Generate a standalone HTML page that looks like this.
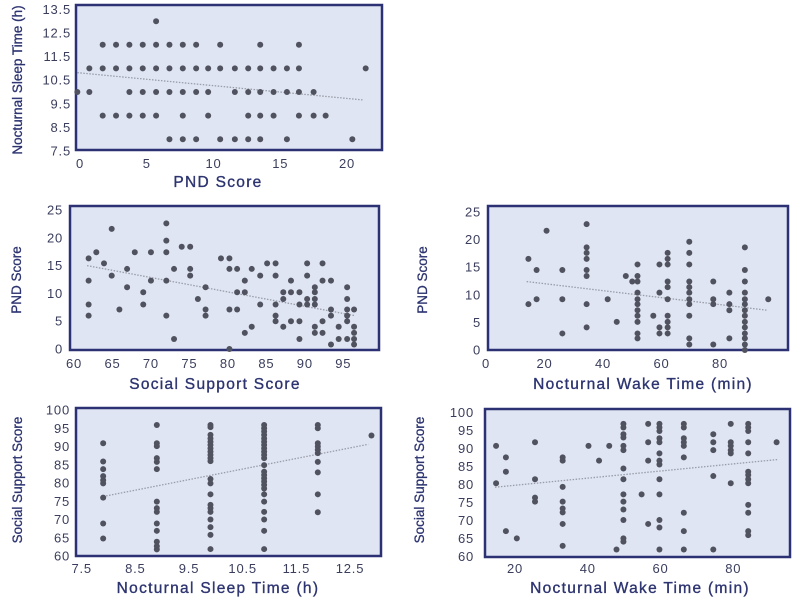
<!DOCTYPE html>
<html><head><meta charset="utf-8"><style>
html,body{margin:0;padding:0;background:#fff;}
svg{display:block;font-family:"Liberation Sans",sans-serif;}
</style></head><body>
<svg id="chart" width="800" height="600" viewBox="0 0 800 600" xmlns="http://www.w3.org/2000/svg"></svg>
<script>
// Panel 1: PND Score (x) vs Nocturnal Sleep Time (y)
const p1X = [5.7, 1.7,2.7,3.7,4.7,5.7,6.7,7.7,8.7,10.5,13.5,16.4,
 0.7,1.7,2.7,3.7,4.7,5.7,6.7,7.7,8.7,9.6,10.5,11.6,12.6,13.5,14.5,15.5,16.4,21.4,
 -0.2,0.7,3.7,4.7,5.7,6.7,7.7,8.7,9.6,11.6,12.6,13.5,14.5,15.5,16.4,17.5,
 1.7,2.7,3.7,4.7,5.7,7.7,9.6,12.6,13.5,14.5,16.4,17.5,18.4,
 6.7,7.7,8.7,10.5,11.6,12.6,13.5,15.5,20.4];
const p1Y = [13, 12,12,12,12,12,12,12,12,12,12,12,
 11,11,11,11,11,11,11,11,11,11,11,11,11,11,11,11,11,11,
 10,10,10,10,10,10,10,10,10,10,10,10,10,10,10,10,
 9,9,9,9,9,9,9,9,9,9,9,9,9,
 8,8,8,8,8,8,8,8,8];
const p1Trend = [[-0.2,10.82],[21.25,9.66]];
const p1XTicks = ["0","5","10","15","20"];
const p1YTicks = ["7.5","8.5","9.5","10.5","11.5","12.5","13.5"];

// Panel 2: Social Support Score (x) vs PND Score (y)
const p2X = [61.9,61.9,61.9,61.9,62.9,63.9,64.9,64.9,65.9,66.9,66.9,67.9,69,69,70,70,72,72,72,72,72,73,73,74,75.1,75.1,75.1,76.1,77.1,77.1,77.1,79.1,80.2,80.2,80.2,80.2,81.2,81.2,81.2,82.2,82.2,82.2,83.1,83.1,84.2,84.2,85.1,86.2,86.2,86.2,86.2,86.2,87.2,87.2,87.2,88.2,88.2,88.2,89.3,89.3,89.3,89.3,90.3,90.3,90.3,90.3,91.3,91.3,91.3,91.3,91.3,91.3,92.3,92.3,92.3,92.3,93.4,93.4,93.4,93.4,94.4,94.4,95.5,95.5,95.5,95.5,95.5,95.5,96.4,96.4,96.4,96.4,96.4];
const p2Y = [16.3,12.3,8,6,17.4,15.4,21.6,13.2,7.1,14.4,11.1,17.4,10.2,8,17.4,12.3,22.6,19.5,17.4,12.3,6,14.4,1.8,18.4,18.4,14.4,13.2,9,11.1,7.1,6,16.3,16.3,14.4,7.1,0,14.4,10.2,7.1,12.3,10.2,2.9,14.4,4,13.2,8,15.4,15.4,13.2,8,6,5,10.2,9,4,12.3,10.2,5,10.2,8,5,1.8,15.4,13.2,9,8,11.1,10.2,9,8,4,2.9,15.4,12.3,5,2.9,12.3,7.1,6,0.8,4,1.8,11.1,9,7.1,6,5,1.8,7.1,4,2.9,1.8,0.8];
const p2Trend = [[61.7,15.0],[96.5,6.0]];
const p2XTicks = ["60","65","70","75","80","85","90","95"];
const p2YTicks = ["0","5","10","15","20","25"];

// Panel 3: Nocturnal Wake Time (x) vs PND Score (y)
const p3X = [14.5,14.5,17.3,17.3,20.7,26.1,26.1,26.1,34.4,34.4,34.4,34.4,34.4,34.4,34.4,34.4,41.6,44.7,47.8,50,
 51.8,51.8,51.8,51.8,51.8,51.8,51.8,51.8,51.8,51.8,51.8,57.2,59.3,59.3,59.3,59.3,
 62.1,62.1,62.1,62.1,62.1,62.1,62.1,62.1,62.1,62.1,
 69.5,69.5,69.5,69.5,69.5,69.5,69.5,69.5,69.5,69.5,69.5,77.7,77.7,77.7,77.7,83.2,83.2,83.2,83.2,
 88.5,88.5,88.5,88.5,88.5,88.5,88.5,88.5,88.5,88.5,88.5,88.5,88.5,88.5,96.5];
const p3Y = [16.5,8.3,14.5,9.2,21.6,14.5,9.2,3,22.8,18.6,17.6,16.5,14.5,13.4,8.3,4.1,9.2,5.1,13.4,12.4,
 15.5,13.4,12.4,10.4,9.2,8.3,7.2,6.2,5.1,3,2.1,6.2,15.5,10.4,4.1,3,
 17.6,16.5,15.5,12.4,11.4,9.2,6.2,5.1,4.1,3,
 19.6,17.6,15.5,12.4,11.4,10.4,9.2,8.3,6.2,2.1,1,12.4,9.2,8.3,1,10.4,8.3,7.2,2.1,
 18.6,14.5,12.4,10.4,9.2,8.3,7.2,6.2,5.1,4.1,3,2.1,1,0,9.2];
const p3Trend = [[13.9,12.4],[96.2,7.2]];
const p3XTicks = ["0","20","40","60","80"];
const p3YTicks = ["0","5","10","15","20","25"];

// Panel 4: Nocturnal Sleep Time (x) vs Social Support Score (y)
const p4X = [7.9,7.9,7.9,7.9,7.9,7.9,7.9,7.9,7.9,
 8.9,8.9,8.9,8.9,8.9,8.9,8.9,8.9,8.9,8.9,8.9,8.9,8.9,8.9,
 9.9,9.9,9.9,9.9,9.9,9.9,9.9,9.9,9.9,9.9,9.9,9.9,9.9,9.9,9.9,9.9,9.9,9.9,9.9,9.9,9.9,
 10.9,10.9,10.9,10.9,10.9,10.9,10.9,10.9,10.9,10.9,10.9,10.9,10.9,10.9,10.9,10.9,10.9,10.9,10.9,10.9,10.9,10.9,10.9,10.9,
 11.9,11.9,11.9,11.9,11.9,11.9,11.9,11.9,11.9,11.9,12.9];
const p4Y = [90.9,85.9,83.8,81.9,80.8,79.9,76,68.9,64.8,
 95.9,90.9,90.1,86.8,85.8,83.8,74.9,73.1,72.1,68.9,66.9,63.9,62.7,61.8,
 95.9,95.3,93.2,92.2,91.3,90.4,89.5,88.6,87.7,86.8,86,81.1,79.9,76.9,74,73.1,72.1,70,67.9,65.8,61.9,
 95.9,95,94.1,93.2,92.2,91.3,90.4,89.5,88.6,87.7,86.8,84.9,83.1,82.2,81.3,80.4,79.5,78.5,76.9,74.9,72.1,70,66.9,61.9,
 95.9,95,90.9,90,89.1,88.2,85.8,82.9,76.9,72,93];
const p4Trend = [[7.9,76.3],[12.84,90.6]];
const p4XTicks = ["7.5","8.5","9.5","10.5","11.5","12.5"];
const p4YTicks = ["60","65","70","75","80","85","90","95","100"];

// Panel 5: Nocturnal Wake Time (x) vs Social Support Score (y)
const p5X = [14.8,14.8,17.5,17.5,17.5,20.5,25.5,25.5,25.5,25.5,
 33.1,33.1,33.1,33.1,33.1,33.1,33.1,33.1,40.2,43.1,45.9,47.9,
 49.8,49.8,49.8,49.8,49.8,49.8,49.8,49.8,49.8,49.8,49.8,49.8,49.8,49.8,54.8,56.6,56.6,56.6,56.6,
 59.7,59.7,59.7,59.7,59.7,59.7,59.7,59.7,59.7,59.7,59.7,59.7,59.7,
 66.4,66.4,66.4,66.4,66.4,66.4,66.4,66.4,66.4,74.5,74.5,74.5,74.5,74.5,
 79.3,79.3,79.3,79.3,79.3,79.3,
 84.1,84.1,84.1,84.1,84.1,84.1,84.1,84.1,84.1,84.1,84.1,84.1,84.1,91.9];
const p5Y = [90.8,80.4,87.6,83.6,67.1,65.1,91.8,81.5,76.4,75.3,
 87.6,86.7,79.4,75.3,73.4,72.3,69.1,63,90.8,86.7,90.8,62,
 96.9,95.9,94,93.1,90.8,89.6,84.5,81.5,77.3,75.3,73.1,70.2,65.1,64.2,77.3,96.9,91.8,86.7,69.1,
 96.9,95.9,94.9,92.9,91.8,88.7,86.7,85.6,81.5,77.3,70.2,68.1,62,
 96.9,95.9,92.9,91.8,90.8,87.6,72.2,67.1,62,94,91.8,89.6,82.4,62,
 96.9,91.8,90.8,89.6,88.7,80.4,
 96.9,95.9,94.9,91.8,88.7,83.6,82.7,81.5,80.4,74.4,72.2,67.1,66,91.8];
const p5Trend = [[14.5,79.3],[92.3,87.0]];
const p5XTicks = ["20","40","60","80"];
const p5YTicks = ["60","65","70","75","80","85","90","95","100"];

const NS = "http://www.w3.org/2000/svg";
const svg = document.getElementById('chart');
function mk(tag, attrs, parent){
  const e = document.createElementNS(NS, tag);
  for (const k in attrs) e.setAttribute(k, attrs[k]);
  (parent||svg).appendChild(e);
  return e;
}
function lin(d0,p0,d1,p1){ return v => p0 + (v-d0)*(p1-p0)/(d1-d0); }

function panel(cfg){
  const g = mk('g', {});
  
  
  const sx = lin(cfg.xd[0],cfg.xp[0],cfg.xd[1],cfg.xp[1]);
  const sy = lin(cfg.yd[0],cfg.yp[0],cfg.yd[1],cfg.yp[1]);
  const b = cfg.box;
  const bg = mk('rect', {x:b[0], y:b[1], width:b[2]-b[0], height:b[3]-b[1], fill:'#dfe5f3', stroke:'#2b3173', 'stroke-width':2.5}, g);
  
  
  const t = cfg.trend;
  const tl = mk('line', {x1:sx(t[0][0]), y1:sy(t[0][1]), x2:sx(t[1][0]), y2:sy(t[1][1]), stroke:'#9a9da8', 'stroke-width':1.3, 'stroke-dasharray':'1.5,1.5'}, g);
  
  
  for (let i=0;i<cfg.x.length;i++){
    const c = mk('circle', {cx:sx(cfg.x[i]), cy:sy(cfg.y[i]), r:3, fill:'#50535f'}, g);
    
    
  }
  cfg.xticks.forEach(s => {
    const tx = mk('text', {x:sx(parseFloat(s)), y:cfg.xty, 'text-anchor':'middle', 'font-size':13, 'letter-spacing':0.8, fill:'#3a3e5c'}, g);
    tx.textContent = s;
    
    
  });
  cfg.yticks.forEach(s => {
    const ty = mk('text', {x:cfg.ytx, y:sy(parseFloat(s))+4.5, 'text-anchor':'end', 'font-size':13, 'letter-spacing':0.8, fill:'#3a3e5c'}, g);
    ty.textContent = s;
    
    
  });
  const xt = mk('text', {x:cfg.xtitle[0], y:cfg.xtitle[1], 'text-anchor':'middle', 'font-size':15.5, fill:'#2d3470', stroke:'#2d3470', 'stroke-width':0.35, 'letter-spacing':1.3}, g);
  xt.textContent = cfg.xlabel;
  
  
  const yt = mk('text', {x:0, y:0, 'text-anchor':'middle', 'font-size':13.5, fill:'#2d3470', stroke:'#2d3470', 'stroke-width':0.3, transform:`translate(${cfg.ytitle[0]},${cfg.ytitle[1]}) rotate(-90)`}, g);
  yt.textContent = cfg.ylabel;
  
  
}

panel({name:'panel-pnd-vs-sleep', x:p1X, y:p1Y, trend:p1Trend, xticks:p1XTicks, yticks:p1YTicks,
  box:[76,5,382,150], xd:[0,20], xp:[80,347], yd:[10,12], yp:[92,44.8], xty:168, ytx:71,
  xlabel:'PND Score', xtitle:[218,187], ylabel:'Nocturnal Sleep Time (h)', ytitle:[22,80]});
panel({name:'panel-support-vs-pnd', x:p2X, y:p2Y, trend:p2Trend, xticks:p2XTicks, yticks:p2YTicks,
  box:[70,206,379,350], xd:[60,95], xp:[74,343.3], yd:[0,25], yp:[349,210], xty:368, ytx:63,
  xlabel:'Social Support Score', xtitle:[215,389], ylabel:'PND Score', ytitle:[21,280]});
panel({name:'panel-wake-vs-pnd', x:p3X, y:p3Y, trend:p3Trend, xticks:p3XTicks, yticks:p3YTicks,
  box:[488,206,788,350], xd:[0,80], xp:[486,720], yd:[0,25], yp:[350,212], xty:368, ytx:481,
  xlabel:'Nocturnal Wake Time (min)', xtitle:[643,389], ylabel:'PND Score', ytitle:[427,280]});
panel({name:'panel-sleep-vs-support', x:p4X, y:p4Y, trend:p4Trend, xticks:p4XTicks, yticks:p4YTicks,
  box:[76,408,381,556], xd:[7.5,12.5], xp:[81.7,350], yd:[60,100], yp:[556,410], xty:573, ytx:70,
  xlabel:'Nocturnal Sleep Time (h)', xtitle:[218,593], ylabel:'Social Support Score', ytitle:[22,480]});
panel({name:'panel-wake-vs-support', x:p5X, y:p5Y, trend:p5Trend, xticks:p5XTicks, yticks:p5YTicks,
  box:[485,409,790,557], xd:[20,80], xp:[515,733.3], yd:[60,100], yp:[556.7,412.7], xty:573, ytx:474,
  xlabel:'Nocturnal Wake Time (min)', xtitle:[640,593], ylabel:'Social Support Score', ytitle:[424,480]});
</script>
</body></html>
